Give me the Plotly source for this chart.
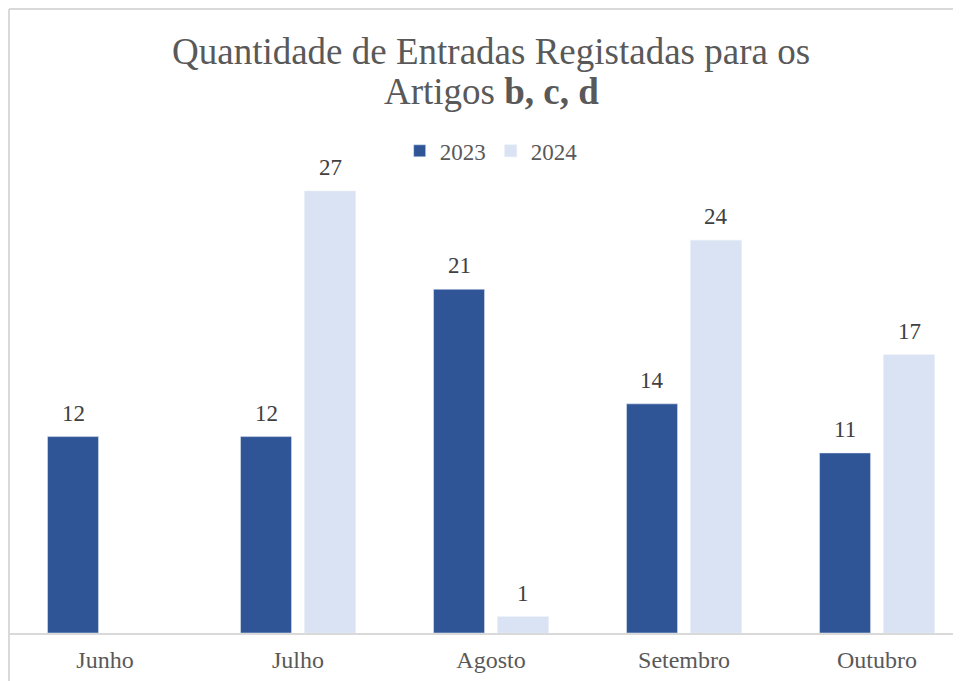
import plotly.graph_objects as go

months = ["Junho", "Julho", "Agosto", "Setembro", "Outubro"]
v2023 = [12, 12, 21, 14, 11]
v2024 = [None, 27, 1, 24, 17]
title_lines = ["Quantidade de Entradas Registadas para os", "Artigos <b>b, c, d</b>"]

FONT = "Liberation Serif"
C23 = "#2F5597"
C24 = "#DAE3F3"

# The page body has an 8px margin, so the figure is sized to the visible area.
W, H = 953, 673
PLOT_H = 491
BASE = 625

fig = go.Figure()
fig.add_trace(go.Bar(name="2023", x=months, y=v2023, marker_color=C23))
fig.add_trace(go.Bar(name="2024", x=months, y=v2024, marker_color=C24))

annotations = []
for vals, shift in ((v2023, -32), (v2024, 32)):
    for m, v in zip(months, vals):
        if v is None:
            continue
        annotations.append(dict(x=m, y=v, xref="x", yref="y", text=str(v), showarrow=False,
                                xshift=shift, yshift=9, yanchor="bottom",
                                font=dict(family=FONT, size=23, color="#404040")))

for line, ypx in zip(title_lines, (43, 84)):
    annotations.append(dict(x=483 / W, y=(BASE - ypx) / PLOT_H, xref="paper", yref="paper",
                            text=line, showarrow=False, xanchor="center", yanchor="middle",
                            font=dict(family=FONT, size=37, color="#595959")))

fig.update_layout(
    width=W, height=H,
    margin=dict(l=0, r=0, t=134, b=48),
    paper_bgcolor="white", plot_bgcolor="white",
    barmode="group", bargap=0.337, bargroupgap=0.203,
    legend=dict(orientation="h", x=0.507, xanchor="center", y=0.982, yanchor="middle",
                font=dict(family=FONT, size=23, color="#595959"), bgcolor="rgba(0,0,0,0)",
                itemwidth=30),
    xaxis=dict(range=[-0.5026, 4.435], showline=True, linecolor="#d9d9d9", linewidth=2,
               ticks="", showgrid=False, ticklabelstandoff=4,
               tickfont=dict(family=FONT, size=24, color="#595959")),
    yaxis=dict(range=[0, 30], showgrid=False, showticklabels=False, zeroline=False, showline=False),
    annotations=annotations,
    shapes=[
        dict(type="line", xref="paper", yref="paper", x0=1 / W, x1=1 / W, y0=-0.3,
             y1=(BASE - 1) / PLOT_H, line=dict(color="#d9d9d9", width=2), layer="below"),
        dict(type="line", xref="paper", yref="paper", x0=1 / W, x1=1.0, y0=(BASE - 1) / PLOT_H,
             y1=(BASE - 1) / PLOT_H, line=dict(color="#d9d9d9", width=2), layer="below"),
    ],
    showlegend=True,
)

fig.write_html("out.html")
